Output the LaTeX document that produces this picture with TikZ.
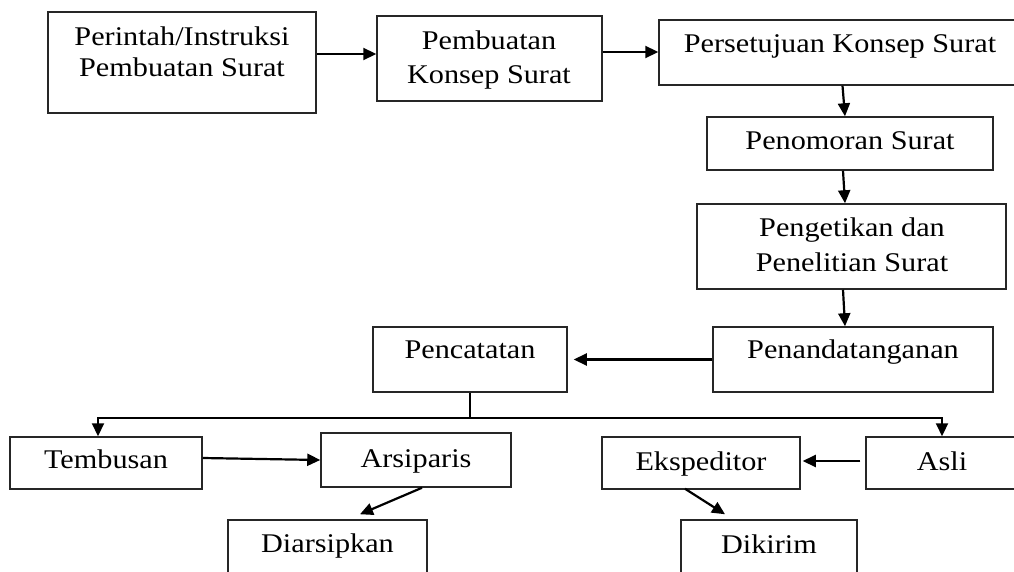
\documentclass[tikz,border=0pt]{standalone}
\usepackage{fontspec}
\setmainfont{Liberation Serif}[FakeStretch=1.12]
\usetikzlibrary{arrows.meta}
\begin{document}
\begin{tikzpicture}[x=1pt,y=-1pt,
  box/.style={draw=black!85, line width=1.5pt, inner sep=0pt},
  txt/.style={anchor=base, inner sep=0pt, font=\fontsize{27}{32}\selectfont},
  arr/.style={line width=2.2pt, -{Triangle[length=13pt,width=12pt]}},
  conn/.style={line width=2.2pt}]
\useasboundingbox (0,0) rectangle (1014,572);
% boxes
\node[box, minimum width=268, minimum height=101] (A) at (182,62.5) {};
\node[box, minimum width=225, minimum height=85]  (B) at (489.5,58.5) {};
\node[box, minimum width=357, minimum height=65]  (C) at (837.5,52.5) {};
\node[box, minimum width=286, minimum height=53]  (D) at (850,143.5) {};
\node[box, minimum width=309, minimum height=85]  (E) at (851.5,246.5) {};
\node[box, minimum width=280, minimum height=65]  (F) at (853,359.5) {};
\node[box, minimum width=194, minimum height=65]  (G) at (470,359.5) {};
\node[box, minimum width=192, minimum height=52]  (H) at (106,463) {};
\node[box, minimum width=190, minimum height=54]  (I) at (416,460) {};
\node[box, minimum width=199, minimum height=56]  (J) at (327.5,548) {};
\node[box, minimum width=198, minimum height=52]  (K) at (701,463) {};
\node[box, minimum width=152, minimum height=52]  (L) at (942,463) {};
\node[box, minimum width=176, minimum height=56]  (M) at (769,548) {};
% texts
\node[txt] (A1) at (182,46) {Perintah/Instruksi};
\node[txt] (A2) at (182,77) {Pembuatan Surat};
\node[txt] (B1) at (489,50) {Pembuatan};
\node[txt] (B2) at (489,84) {Konsep Surat};
\node[txt] (C1) at (840,53) {Persetujuan Konsep Surat};
\node[txt] (D1) at (850,150) {Penomoran Surat};
\node[txt] (E1) at (852,236) {Pengetikan dan};
\node[txt] (E2) at (852,271) {Penelitian Surat};
\node[txt] (F1) at (853,358) {Penandatanganan};
\node[txt] (G1) at (470,358) {Pencatatan};
\node[txt] (H1) at (106,468) {Tembusan};
\node[txt] (I1) at (416,467) {Arsiparis};
\node[txt] (J1) at (327.5,552) {Diarsipkan};
\node[txt] (K1) at (701,470) {Ekspeditor};
\node[txt] (L1) at (942,470) {Asli};
\node[txt] (M1) at (769,553) {Dikirim};
% connectors
\draw[arr] ([yshift=8.5]A.east) -- ([yshift=4.5]B.west);
\draw[arr] ([yshift=6.5]B.east) -- ([yshift=0.5]C.west);
\draw[arr] ([xshift=5]C.south) -- ([xshift=-5]D.north);
\draw[arr] ([xshift=-7]D.south) -- ([xshift=-6.5]E.north);
\draw[arr] ([xshift=-8.5]E.south) -- ([xshift=-8]F.north);
\draw[arr, shorten >=6pt] (F.west) -- (G.east);
\draw[conn] (G.south) -- ++(0,25) coordinate (split);
\draw[arr] (split) -| ([xshift=-8]H.north);
\draw[arr] (split) -| (L.north);
\draw[arr] ([yshift=5]H.east) -- (I.west);
\draw[arr] ([xshift=6]I.south) -- ([xshift=32.5,yshift=5]J.north);
\draw[arr] ([xshift=-5,yshift=2]L.west) -- ([xshift=2,yshift=2]K.east);
\draw[arr] ([xshift=-16,yshift=1]K.south) -- ([xshift=-44,yshift=5]M.north);
\end{tikzpicture}
\end{document}
